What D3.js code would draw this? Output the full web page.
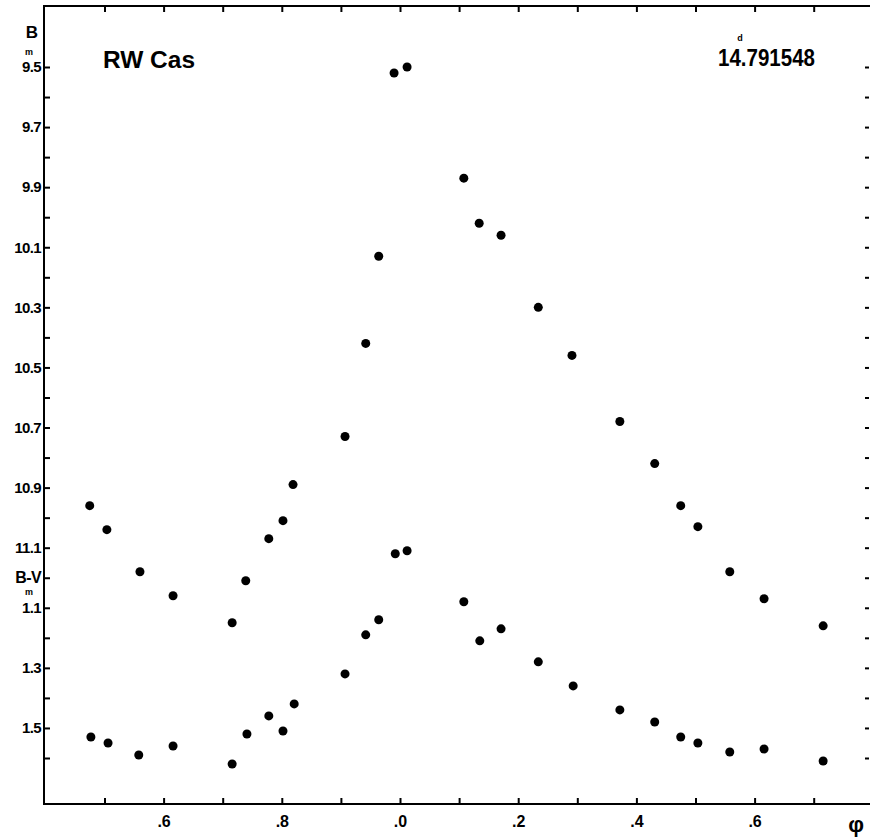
<!DOCTYPE html>
<html>
<head>
<meta charset="utf-8">
<script src="https://cdn.jsdelivr.net/npm/d3@7"></script>
<style>
  body { margin: 0; background: #fff; }
  svg { display: block; }
  text { font-family: "Liberation Sans", Arial, sans-serif; font-weight: bold; fill: #000; }
</style>
</head>
<body>
<svg id="chart" width="870" height="838"></svg>
<script>
// ---- data (phase, magnitude) ----
const phaseB = [0.475, 0.504, 0.560, 0.616, 0.716, 0.739, 0.778, 0.802, 0.819, 0.907, 0.942, 0.964, 0.990, 1.012,
                1.108, 1.134, 1.171, 1.234, 1.291, 1.372, 1.431, 1.475, 1.504, 1.558, 1.616, 1.716];
const magB   = [10.96, 11.04, 11.18, 11.26, 11.35, 11.21, 11.07, 11.01, 10.89, 10.73, 10.42, 10.13, 9.52, 9.50,
                9.87, 10.02, 10.06, 10.30, 10.46, 10.68, 10.82, 10.96, 11.03, 11.18, 11.27, 11.36];
const phaseBV = [0.477, 0.506, 0.558, 0.616, 0.716, 0.741, 0.778, 0.802, 0.821, 0.907, 0.942, 0.964, 0.992, 1.012,
                 1.108, 1.135, 1.171, 1.234, 1.293, 1.372, 1.431, 1.475, 1.504, 1.558, 1.616, 1.716];
const colBV   = [1.53, 1.55, 1.59, 1.56, 1.62, 1.52, 1.46, 1.51, 1.42, 1.32, 1.19, 1.14, 0.92, 0.91,
                 1.08, 1.21, 1.17, 1.28, 1.36, 1.44, 1.48, 1.53, 1.55, 1.58, 1.57, 1.61];

const phaseTicks = [0.5, 0.6, 0.7, 0.8, 0.9, 1.0, 1.1, 1.2, 1.3, 1.4, 1.5, 1.6, 1.7];
const phaseLabels = {0.6: ".6", 0.8: ".8", 1.0: ".0", 1.2: ".2", 1.4: ".4", 1.6: ".6"};
const bTicks = [9.5, 9.6, 9.7, 9.8, 9.9, 10.0, 10.1, 10.2, 10.3, 10.4, 10.5, 10.6, 10.7, 10.8, 10.9, 11.0, 11.1];
const bLabels = {9.5: "9.5", 9.7: "9.7", 9.9: "9.9", 10.1: "10.1", 10.3: "10.3", 10.5: "10.5", 10.7: "10.7", 10.9: "10.9", 11.1: "11.1"};
const bvTicks = [1.0, 1.1, 1.2, 1.3, 1.4, 1.5, 1.6];
const bvLabels = {1.0: "B-V", 1.1: "1.1", 1.3: "1.3", 1.5: "1.5"};
const rightTicks = [9.5, 9.6, 9.7, 9.8, 9.9, 10.0, 10.1, 10.2, 10.3, 10.4, 10.5, 10.6, 10.7, 10.8, 10.9, 11.0, 11.1,
                    11.2, 11.3, 11.4, 11.5, 11.6, 11.7, 11.8];
const starName = "RW Cas";
const periodText = "14.791548";

// ---- layout ----
const svg = d3.select("#chart");
const L = 44, R = 870, T = 6, B = 804;

const x = d3.scaleLinear().domain([0.4, 1.8]).range([45.4, 872.8]);
const yB = d3.scaleLinear().domain([9.5, 11.8]).range([67, 758]);
const yBV = d3.scaleLinear().domain([-0.7, 1.6]).range([67, 758]);

const key = d => Math.round(d * 10) / 10;

function styleAxis(g) {
  g.select(".domain").remove();
  g.selectAll(".tick line").attr("stroke", "#000").attr("stroke-width", 2);
  g.selectAll(".tick text").attr("fill", "#000");
}
const labelStyle = (size, ls) => g => g.selectAll(".tick text")
  .attr("font-size", size).attr("font-family", "Liberation Sans, Arial")
  .attr("font-weight", "bold").attr("letter-spacing", ls);

// left B axis
svg.append("g").attr("transform", `translate(${L},0)`)
  .call(d3.axisLeft(yB).tickValues(bTicks).tickSize(-6).tickPadding(3)
        .tickFormat(d => bLabels[key(d)] || ""))
  .call(styleAxis)
  .call(labelStyle(15, -0.6));

// left B-V axis
svg.append("g").attr("transform", `translate(${L},0)`)
  .call(d3.axisLeft(yBV).tickValues(bvTicks).tickSize(-6).tickPadding(3)
        .tickFormat(d => bvLabels[key(d)] || ""))
  .call(styleAxis)
  .call(labelStyle(15, -0.6))
  .call(g => g.selectAll(".tick text").filter(d => key(d) === 1.0).attr("font-size", 16));

// bottom axis
svg.append("g").attr("transform", `translate(0,${B})`)
  .call(d3.axisBottom(x).tickValues(phaseTicks).tickSize(-6).tickPadding(12)
        .tickFormat(d => phaseLabels[key(d)] || ""))
  .call(styleAxis)
  .call(labelStyle(16, 0));

// top axis
svg.append("g").attr("transform", `translate(0,${T})`)
  .call(d3.axisTop(x).tickValues(phaseTicks).tickSize(-6).tickFormat(""))
  .call(styleAxis);

// right ticks (no line)
svg.append("g").attr("transform", `translate(${R - 1},0)`)
  .call(d3.axisRight(yB).tickValues(rightTicks).tickSize(-4).tickFormat(""))
  .call(styleAxis);

// frame lines
svg.append("line").attr("x1", L).attr("x2", L).attr("y1", T - 1).attr("y2", B + 1).attr("stroke", "#000").attr("stroke-width", 2);
svg.append("line").attr("x1", L).attr("x2", R).attr("y1", T).attr("y2", T).attr("stroke", "#000").attr("stroke-width", 2);
svg.append("line").attr("x1", L - 1).attr("x2", R).attr("y1", B).attr("y2", B).attr("stroke", "#000").attr("stroke-width", 2);

// axis titles
svg.append("text").attr("x", 32).attr("y", 38).attr("text-anchor", "middle").attr("font-size", 17).text("B");
svg.append("text").attr("x", 29).attr("y", 55).attr("text-anchor", "middle").attr("font-size", 9).text("m");
svg.append("text").attr("x", 29).attr("y", 595).attr("text-anchor", "middle").attr("font-size", 9).text("m");
svg.append("text").attr("x", 856).attr("y", 832).attr("text-anchor", "middle").attr("font-size", 22).text("φ");

// titles
svg.append("text").attr("x", 103).attr("y", 68).attr("font-size", 23)
  .attr("textLength", 92).attr("lengthAdjust", "spacingAndGlyphs").text(starName);
svg.append("text").attr("x", 718).attr("y", 66).attr("font-size", 24)
  .attr("textLength", 97).attr("lengthAdjust", "spacingAndGlyphs").text(periodText);
svg.append("text").attr("x", 740).attr("y", 41).attr("text-anchor", "middle").attr("font-size", 9).text("d");

// data points
const ptsB = phaseB.map((p, i) => ({p, v: magB[i]}));
const ptsBV = phaseBV.map((p, i) => ({p, v: colBV[i]}));

svg.append("g").selectAll("circle").data(ptsB).join("circle")
  .attr("cx", d => x(d.p)).attr("cy", d => yB(d.v)).attr("r", 4.5).attr("fill", "#000");
svg.append("g").selectAll("circle").data(ptsBV).join("circle")
  .attr("cx", d => x(d.p)).attr("cy", d => yBV(d.v)).attr("r", 4.5).attr("fill", "#000");
</script>
</body>
</html>
